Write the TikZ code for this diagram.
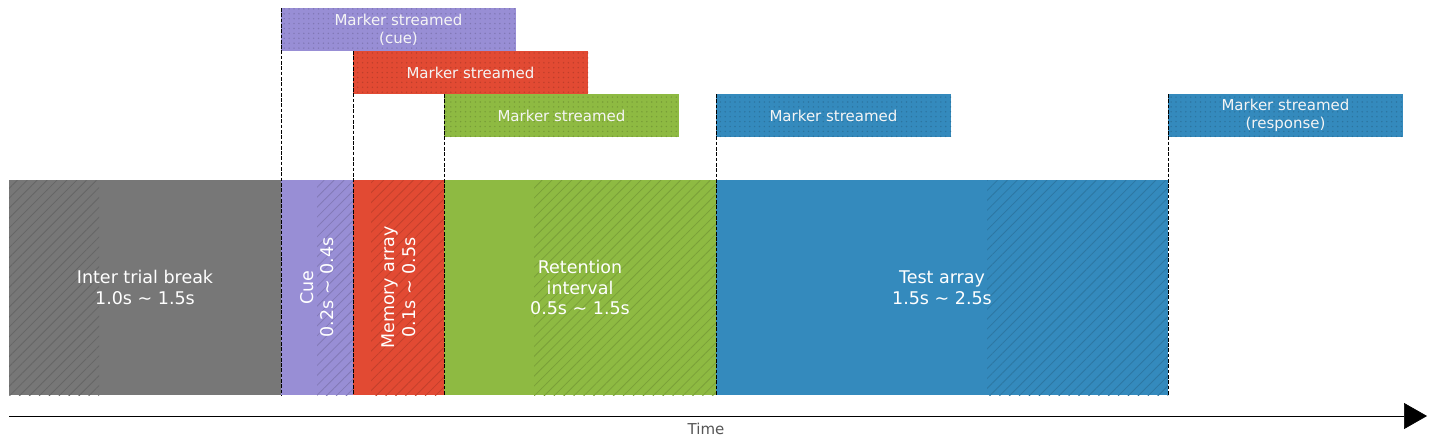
\documentclass[tikz,border=0pt]{standalone}
\usepackage{fontspec}
\setmainfont{DejaVu Sans}
\usetikzlibrary{patterns.meta,arrows.meta}
\definecolor{cgray}{HTML}{777777}
\definecolor{cpurple}{HTML}{988ED5}
\definecolor{cred}{HTML}{E24A33}
\definecolor{cgreen}{HTML}{8EBA42}
\definecolor{cblue}{HTML}{348ABD}
\definecolor{labelgray}{HTML}{555555}
\begin{document}
\begin{tikzpicture}[x=1pt,y=-1pt,
  blk/.style={fill=#1,draw=none,inner sep=0pt,outer sep=0pt,anchor=north west,minimum height=215pt},
  blktext/.style={text=white,inner sep=0pt,align=center,font=\fontsize{17.5}{20.5}\selectfont},
  mrk/.style={fill=#1,draw=none,inner sep=0pt,outer sep=0pt,anchor=north west,minimum width=235pt,minimum height=43pt,
    postaction={pattern={Dots[radius=0.8pt,distance=4.9pt]},pattern color=#1!84!black},
    text=white!96!black,align=center,font=\fontsize{15}{18}\selectfont},
  hatchfill/.style={pattern={Lines[angle=45,distance=7pt,line width=0.8pt]},pattern color=#1!86!black},
  guide/.style={draw=black,line width=1pt,dash pattern=on 3.7pt off 1.6pt},
  timeline/.style={draw=black,line width=0.7pt,-{Triangle[length=23pt,width=26pt]}}
]
\useasboundingbox (0,0) rectangle (1435,445);

% phase blocks
\node[blk=cgray,minimum width=272pt] (itb) at (9,180) {};
\node[blk=cpurple,minimum width=72pt] (cue) at (281,180) {};
\node[blk=cred,minimum width=91pt] (mem) at (353,180) {};
\node[blk=cgreen,minimum width=272pt] (ret) at (444,180) {};
\node[blk=cblue,minimum width=452pt] (test) at (716,180) {};

% hatched parts
\fill[hatchfill=cgray] (9,180) rectangle (99,395);
\fill[hatchfill=cpurple] (317,180) rectangle (353,395);
\fill[hatchfill=cred] (371,180) rectangle (444,395);
\fill[hatchfill=cgreen] (534,180) rectangle (716,395);
\fill[hatchfill=cblue] (987,180) rectangle (1168,395);

% block labels
\node[blktext] (itbl) at (itb.center) {Inter trial break\\1.0s \textasciitilde{} 1.5s};
\node[blktext,rotate=90] (cuel) at (cue.center) {Cue\\0.2s \textasciitilde{} 0.4s};
\node[blktext,rotate=90] (meml) at (mem.center) {Memory array\\0.1s \textasciitilde{} 0.5s};
\node[blktext] (retl) at (ret.center) {Retention\\interval\\0.5s \textasciitilde{} 1.5s};
\node[blktext] (testl) at (test.center) {Test array\\1.5s \textasciitilde{} 2.5s};

% marker boxes
\node[mrk=cpurple] (mcue) at (281,8) {Marker streamed\\(cue)};
\node[mrk=cred] (mmem) at (353,51) {Marker streamed};
\node[mrk=cgreen] (mret) at (444,94) {Marker streamed};
\node[mrk=cblue] (mtest) at (716,94) {Marker streamed};
\node[mrk=cblue] (mresp) at (1168,94) {Marker streamed\\(response)};

% dashed guides
\draw[guide] (mcue.north west) -- (cue.south west);
\draw[guide] (mmem.north west) -- (mem.south west);
\draw[guide] (mret.north west) -- (ret.south west);
\draw[guide] (mtest.north west) -- (test.south west);
\draw[guide] (mresp.north west) -- (test.south east);

% time axis
\coordinate (t0) at (9,416);
\coordinate (t1) at (1427,416);
\draw[timeline] (t0) -- (t1);
\node[text=labelgray,font=\fontsize{15}{18}\selectfont,inner sep=0pt] (tlab) at (706,429) {Time};
\end{tikzpicture}
\end{document}
